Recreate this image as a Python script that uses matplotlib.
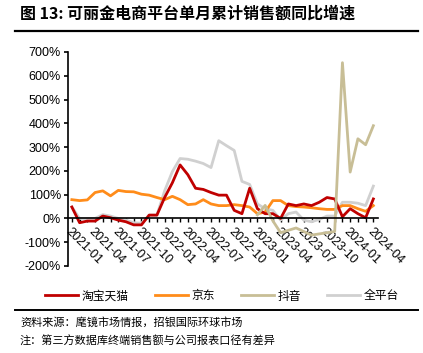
import matplotlib
matplotlib.use("Agg")
import matplotlib.pyplot as plt
from matplotlib.lines import Line2D

plt.rcParams['font.family'] = ['Liberation Sans', 'Noto Sans CJK SC', 'DejaVu Sans']

# ---- data (YoY %, monthly 2021-01 .. 2024-04) ----
months = ["%d-%02d" % (y, m) for y in range(2021, 2025) for m in range(1, 13)][:40]

tmall = [48, -18, -11, -11, 10, 3, -7, -14, -27, -27,
         14, 14, 88, 150, 225, 184, 127, 122, 109, 98,
         98, 34, 20, 127, 41, 20, 20, 0, 61, 54,
         61, 54, 68, 88, 82, 7, 41, 20, 3, 82]
jd = [79, 75, 78, 109, 116, 95, 118, 113, 112, 102,
      98, 88, 79, 93, 79, 58, 61, 79, 61, 54,
      54, 58, 54, 48, 20, 27, 75, 75, 54, 50,
      48, 45, 41, 38, 38, 54, 54, 41, 30, 54]
douyin = [None] * 24 + [15, 55, -10, -60, -50, -40, -55, -70, -65, -60,
                        -55, 655, 195, 335, 310, 390]
total = [48, 0, -1, 0, 16, 10, 0, -7, -18, -20,
         14, 14, 116, 197, 252, 249, 241, 231, 214, 327,
         306, 286, 156, 143, 61, 41, 34, -7, 20, 27,
         -7, -14, -4, 10, 10, 68, 68, 64, 54, 136]

names = ["淘宝天猫", "京东", "抖音", "全平台"]
colors = ["#C00000", "#FF8C1A", "#C8BE96", "#D0D0D0"]

fig = plt.figure(figsize=(4.23, 3.53), dpi=100)

# title + rule
fig.text(20 / 423, 1 - 14 / 353, "图 13: 可丽金电商平台单月累计销售额同比增速",
         fontsize=11.5, fontweight="bold", va="center", ha="left",
         family=['Noto Sans CJK SC', 'DejaVu Sans'])
fig.add_artist(Line2D([15 / 423, 418 / 423], [1 - 31 / 353] * 2, color="black", lw=1.6))

ax = fig.add_axes([68 / 423, 1 - 266 / 353, 310 / 423, 214 / 353])
x = list(range(len(months)))

douyin_x = [i for i, v in enumerate(douyin) if v is not None]
douyin_y = [v for v in douyin if v is not None]

ax.plot(x, total, color=colors[3], lw=2)
ax.plot(x, jd, color=colors[1], lw=2)
ax.plot(x, tmall, color=colors[0], lw=2)
ax.plot(douyin_x, douyin_y, color=colors[2], lw=2)

for s in ["top", "right"]:
    ax.spines[s].set_visible(False)
# spine position first: it resets the ticks
ax.spines["bottom"].set_position(("data", 0))
ax.spines["left"].set_linewidth(1.2)
ax.spines["bottom"].set_linewidth(1.2)

ax.set_ylim(-200, 700)
ax.set_xlim(-0.5, 39.6)
ax.set_yticks(range(-200, 701, 100))
ax.set_yticklabels(["%d%%" % v for v in range(-200, 701, 100)], fontsize=9)

ax.set_xticks(x)
ax.set_xticklabels([m if i % 3 == 0 else "" for i, m in enumerate(months)],
                   rotation=-45, ha="left", va="top", rotation_mode="anchor", fontsize=9)
ax.tick_params(axis="y", length=3, width=1.2, pad=2)
ax.tick_params(axis="x", length=3, width=1, pad=2)

handles = [Line2D([], [], color=c, lw=2) for c in colors]
fig.legend(handles, names, loc="center", bbox_to_anchor=(0.525, 1 - 296 / 353), ncol=4,
           frameon=False, handlelength=2.8, columnspacing=2.2,
           handletextpad=0.3, prop={'family': ['Noto Sans CJK SC'], 'size': 8.5})

fig.add_artist(Line2D([15 / 423, 418 / 423], [1 - 310 / 353] * 2, color="black", lw=1.4))
fig.text(20 / 423, 1 - 322 / 353, "资料来源：麾镜市场情报，招银国际环球市场", fontsize=8,
         va="center", family=['Noto Sans CJK SC'])
fig.text(20 / 423, 1 - 341 / 353, "注：第三方数据库终端销售额与公司报表口径有差异", fontsize=8,
         va="center", family=['Noto Sans CJK SC'])

fig.savefig("out.png", dpi=100)
